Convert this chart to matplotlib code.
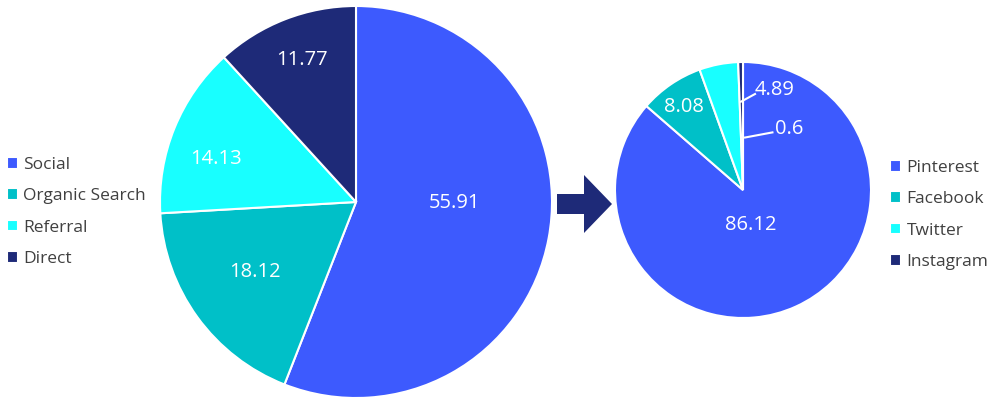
import matplotlib
matplotlib.use("Agg")
import matplotlib.pyplot as plt
from matplotlib.patches import FancyArrow

# ---- data ----
src_labels = ["Social", "Organic Search", "Referral", "Direct"]
src_values = [55.91, 18.12, 14.13, 11.77]
soc_labels = ["Pinterest", "Facebook", "Twitter", "Instagram"]
soc_values = [86.12, 8.08, 4.89, 0.6]

# ---- style / layout ----
colors = ["#3D5AFE", "#00C0C8", "#18FFFF", "#1E2A78"]
W, H = 1000, 407
left_c, left_r = (356, H - 202), 196
right_c, right_r = (743, H - 190), 128
# label offsets as fractions of radius (dx, dy), y upward
left_lab_off = [(0.505, -0.005), (-0.515, -0.357), (-0.714, 0.219), (-0.276, 0.724)]
right_lab_off = [(0.06, -0.27), (-0.46, 0.65), (0.25, 0.78), (0.36, 0.48)]
# leader lines for small slices: (text-side point, slice-side point)
leaders = {2: ((0.094, 0.75), (-0.016, 0.69)), 3: ((0.23, 0.45), (0.016, 0.41))}

plt.rcParams['font.family'] = ['Open Sans', 'DejaVu Sans']
fig = plt.figure(figsize=(W / 100, H / 100), dpi=100)
ax = fig.add_axes([0, 0, 1, 1])
ax.set_aspect('equal')

wl, _ = ax.pie(src_values, colors=colors, startangle=90, counterclock=False,
               center=left_c, radius=left_r, frame=True,
               wedgeprops=dict(edgecolor='white', linewidth=1.5))
wr, _ = ax.pie(soc_values, colors=colors, startangle=90, counterclock=False,
               center=right_c, radius=right_r, frame=True,
               wedgeprops=dict(edgecolor='white', linewidth=1.5))
ax.set_xlim(0, W)
ax.set_ylim(0, H)
ax.axis('off')

for v, (dx, dy) in zip(src_values, left_lab_off):
    ax.text(left_c[0] + dx * left_r, left_c[1] + dy * left_r, f"{v:g}",
            color='white', fontsize=14.5, ha='center', va='center')
for i, (v, (dx, dy)) in enumerate(zip(soc_values, right_lab_off)):
    ax.text(right_c[0] + dx * right_r, right_c[1] + dy * right_r, f"{v:g}",
            color='white', fontsize=14.5, ha='center', va='center')
    if i in leaders:
        (ax1, ay1), (ax2, ay2) = leaders[i]
        ax.plot([right_c[0] + ax1 * right_r, right_c[0] + ax2 * right_r],
                [right_c[1] + ay1 * right_r, right_c[1] + ay2 * right_r],
                color='white', lw=1.5)

# arrow
ax.add_patch(FancyArrow(557, H - 204, 55, 0, width=20, head_width=58,
                        head_length=28, length_includes_head=True,
                        color="#1E2A78", lw=0))

leg_kw = dict(frameon=False, fontsize=12.5, handlelength=0.65, handleheight=0.65,
              handletextpad=0.3, labelspacing=0.88, labelcolor='#404040',
              borderaxespad=0, borderpad=0)
leg1 = ax.legend(wl, src_labels, loc='center left',
                 bbox_to_anchor=(7 / W, 1 - 212 / H), **leg_kw)
ax.add_artist(leg1)
ax.legend(wr, soc_labels, loc='center left',
          bbox_to_anchor=(890 / W, 1 - 215 / H), **leg_kw)

fig.savefig("out.png", dpi=100)
